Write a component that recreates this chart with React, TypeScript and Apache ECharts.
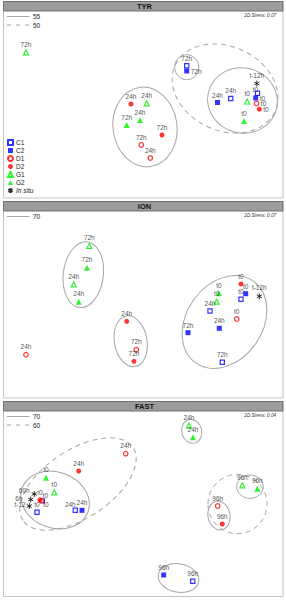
import { useEffect, useRef } from "react";
import * as echarts from "echarts";

type Pt = [number, number, string];
type Ell = [number, number, number, number, number, number]; // cx, cy, rx, ry, rotationDeg, dashed

const FONT = '"Liberation Sans", Arial, sans-serif';

const panelNames = ["TYR", "ION", "FAST"];
const stressLabels = ["2D Stress: 0.07", "2D Stress: 0.07", "2D Stress: 0.04"];
const contourSolid = ["55", "70", "70"];
const contourDashed = ["50", "", "60"];
const groupNames = ["C1", "C2", "D1", "D2", "G1", "G2", "In situ"];

// MDS coordinates per panel (x to the right, y downward, panel units)
const tyrPoints: Record<string, Pt[]> = {
  C1: [[186.7, 65.7, "72h"], [230.7, 98.5, "24h"], [257.5, 93.2, "t0"]],
  C2: [[186.7, 71, "72h"], [217.5, 102.5, "24h"], [255.7, 98, "t0"]],
  D1: [[141.3, 145, "72h"], [150.3, 158, "24h"], [256.5, 103.5, "t0"]],
  D2: [[131, 104, "24h"], [162, 135, "72h"], [259.3, 109.2, "t0"]],
  G1: [[26, 52.3, "72h"], [146.7, 103.3, "24h"], [247.2, 101.5, "t0"]],
  G2: [[140, 120, "24h"], [126.7, 125, "72h"], [244, 121, "t0"]],
  "In situ": [[256.8, 83.5, "t-12h"]],
};
const ionPoints: Record<string, Pt[]> = {
  C1: [[210, 111, "24h"], [241, 99.3, "t0"], [222.3, 162.3, "72h"]],
  C2: [[245.7, 93.7, "t0"], [219.3, 128.3, "24h"], [188, 132.7, "72h"]],
  D1: [[136.3, 149.7, "72h"], [26, 154.7, "24h"], [236.7, 119, "t0"]],
  D2: [[126.7, 121.3, "24h"], [134, 161.3, "72h"], [241, 84, "t0"]],
  G1: [[89.3, 46, "72h"], [73.7, 84.3, "24h"], [216.7, 101.7, "t0"]],
  G2: [[87, 67.7, "72h"], [78.7, 101.7, "24h"], [219, 93.3, "t0"]],
  "In situ": [[259.3, 96.3, "t-12h"]],
};
const fastPoints: Record<string, Pt[]> = {
  C1: [[75.3, 110.3, "24h"], [37, 112.3, "t0"], [192.7, 181.3, "96h"]],
  C2: [[82, 110.3, "24h"], [42.5, 100.8, "t0"], [163.7, 175, "96h"]],
  D2: [[78.7, 71, "24h"], [40, 100, "t0"], [222.3, 124, "96h"]],
  D1: [[125.7, 53.7, "24h"], [41.7, 100.7, "t0"], [217.7, 106, "96h"]],
  G1: [[189, 25.7, "24h"], [54.3, 92.3, "t0"], [242.3, 85.3, "96h"]],
  G2: [[193, 37.3, "24h"], [46, 77.7, "t0"], [257.3, 88.7, "96h"]],
  "In situ": [[34.3, 94, "60h"], [30.7, 99.5, "6h"], [29.3, 106, "t-12"]],
};

// similarity contours (cluster outlines)
const tyrEllipses: Ell[] = [
  [225, 88.5, 55, 42, -25, 1],
  [186.7, 67.2, 12, 12.5, 0, 0],
  [242.5, 100.5, 35, 32.5, -15, 0],
  [145, 127, 32, 40, 8, 0],
];
const ionEllipses: Ell[] = [
  [83.3, 74.7, 20, 33, -7, 0],
  [130.7, 141.3, 16.3, 25.7, 10, 0],
  [224.5, 122, 50, 38, 55, 0],
];
const fastEllipses: Ell[] = [
  [191.7, 31.3, 10, 12, 15, 0],
  [55, 100, 35, 28, -20, 0],
  [78, 84, 66, 34, 33.5, 1],
  [250, 86.7, 13.3, 11.7, 0, 0],
  [219, 115.5, 11, 14.5, 10, 0],
  [237.5, 104, 29.5, 29.7, 0, 1],
  [178.5, 178, 20.5, 14.3, -10, 0],
];

const panelPoints = [tyrPoints, ionPoints, fastPoints];
const panelEllipses = [tyrEllipses, ionEllipses, fastEllipses];

// label placement tweaks (style only)
const labelTweaks: Record<string, { position?: string; offset?: number[] }> = {
  "TYR|C2|72h": { position: "right" },
  "TYR|C2|t0": { position: "right" },
  "TYR|D1|t0": { position: "right" },
  "TYR|D2|t0": { position: "right" },
  "TYR|C1|t0": { offset: [-2, 3.5] },
  "FAST|C1|24h": { offset: [-5, 2] },
  "FAST|C2|t0": { offset: [3, 2.5] },
  "FAST|D1|t0": { offset: [4.3, 12] },
  "FAST|In situ|60h": { position: "left", offset: [0, -4] },
  "FAST|In situ|6h": { position: "left", offset: [-3.5, -1] },
  "FAST|In situ|t-12": { position: "left", offset: [1, -1.5] },
};

const ASTERISK = "path://M5,0L5,10M0.67,2.5L9.33,7.5M0.67,7.5L9.33,2.5";
const BLUE = "#0000ff";
const RED = "#ff0000";
const GREEN = "#00ee00";

const groupStyle: Record<string, any> = {
  C1: { symbol: "rect", symbolSize: 4.2, itemStyle: { color: "#fff", borderColor: BLUE, borderWidth: 1.2 } },
  C2: { symbol: "rect", symbolSize: 5, itemStyle: { color: BLUE } },
  D1: { symbol: "circle", symbolSize: 4.5, itemStyle: { color: "#fff", borderColor: RED, borderWidth: 1.2 } },
  D2: { symbol: "circle", symbolSize: 5, itemStyle: { color: RED } },
  G1: { symbol: "triangle", symbolSize: 5, itemStyle: { color: "#fff", borderColor: GREEN, borderWidth: 1.2 } },
  G2: { symbol: "triangle", symbolSize: 6, itemStyle: { color: GREEN } },
  "In situ": {
    symbol: ASTERISK,
    symbolSize: 6,
    symbolKeepAspect: true,
    itemStyle: { color: "rgba(0,0,0,0)", borderColor: "#000", borderWidth: 1 },
  },
};

const PANEL_H = 200;

export default function App() {
  const ref = useRef<HTMLDivElement>(null);
  useEffect(() => {
    if (!ref.current) return;
    const chart = echarts.init(ref.current, undefined, { renderer: "svg" });

    const grids: any[] = [];
    const xAxes: any[] = [];
    const yAxes: any[] = [];
    const series: any[] = [];
    const graphics: any[] = [];

    panelNames.forEach((pname, k) => {
      grids.push({ left: 0, top: k * PANEL_H, width: 286, height: PANEL_H });
      xAxes.push({ type: "value", gridIndex: k, min: 0, max: 286, show: false });
      yAxes.push({ type: "value", gridIndex: k, min: 0, max: PANEL_H, inverse: true, show: false });

      series.push({
        type: "custom",
        name: "contours-" + pname,
        xAxisIndex: k,
        yAxisIndex: k,
        silent: true,
        z: 1,
        encode: { x: 0, y: 1 },
        data: panelEllipses[k],
        renderItem: (_p: any, api: any) => {
          const c = api.coord([api.value(0), api.value(1)]);
          const s = api.size([api.value(2), api.value(3)]);
          return {
            type: "ellipse",
            x: c[0],
            y: c[1],
            rotation: (api.value(4) * Math.PI) / 180,
            shape: { cx: 0, cy: 0, rx: s[0], ry: s[1] },
            style: {
              fill: "none",
              stroke: "#a6a6a6",
              lineWidth: 1,
              lineDash: api.value(5) ? [5, 4] : null,
            },
          };
        },
      });

      const pts = panelPoints[k];
      groupNames.forEach((g) => {
        const list = pts[g] || [];
        const st = groupStyle[g];
        series.push({
          type: "scatter",
          name: g,
          xAxisIndex: k,
          yAxisIndex: k,
          z: 3,
          symbol: st.symbol,
          symbolSize: st.symbolSize,
          symbolKeepAspect: st.symbolKeepAspect,
          itemStyle: st.itemStyle,
          label: {
            show: true,
            formatter: "{b}",
            position: "top",
            distance: 1.5,
            fontSize: 6.5,
            fontFamily: FONT,
            color: "#222222",
            textBorderWidth: 0,
            textBorderColor: "transparent",
          },
          emphasis: { disabled: true },
          data: list.map((p) => {
            const tw = labelTweaks[`${pname}|${g}|${p[2]}`];
            const item: any = { name: p[2], value: [p[0], p[1]] };
            if (tw) item.label = { ...tw };
            return item;
          }),
        });
      });

      const top = 1.5 + k * PANEL_H;
      const h = k === 2 ? 195 : 196.5;
      graphics.push({
        type: "rect",
        z: 0,
        shape: { x: 3.5, y: top, width: 279.5, height: h },
        style: { fill: "none", stroke: "#c4c4c4", lineWidth: 1 },
      });
      graphics.push({
        type: "rect",
        z: 5,
        shape: { x: 3.5, y: top, width: 279.5, height: 9.5 },
        style: { fill: "#9c9c9c", stroke: "#707070", lineWidth: 1 },
      });
      graphics.push({
        type: "text",
        z: 6,
        x: 144.5,
        y: top + 5,
        style: {
          text: pname,
          fontSize: 7.5,
          fontWeight: "bold",
          fontFamily: FONT,
          fill: "#111",
          align: "center",
          verticalAlign: "middle",
          textAlign: "center",
          textVerticalAlign: "middle",
        },
      });
      graphics.push({
        type: "text",
        z: 6,
        x: 276,
        y: top + 14,
        style: {
          text: stressLabels[k],
          fontSize: 4.6,
          fontStyle: "italic",
          fontFamily: FONT,
          fill: "#333",
          align: "right",
          verticalAlign: "middle",
          textAlign: "right",
          textVerticalAlign: "middle",
        },
      });
      const rows = [
        { label: contourSolid[k], dash: null as any, dy: 15 },
        { label: contourDashed[k], dash: [4, 5], dy: 23.5 },
      ];
      rows.forEach((r) => {
        if (!r.label) return;
        graphics.push({
          type: "line",
          z: 6,
          shape: { x1: 7, y1: top + r.dy, x2: 29.5, y2: top + r.dy },
          style: { stroke: "#a6a6a6", lineWidth: 1, lineDash: r.dash },
        });
        graphics.push({
          type: "text",
          z: 6,
          x: 33,
          y: top + r.dy,
          style: {
            text: r.label,
            fontSize: 6.5,
            fontFamily: FONT,
            fill: "#222",
            align: "left",
            verticalAlign: "middle",
            textAlign: "left",
            textVerticalAlign: "middle",
          },
        });
      });
    });

    chart.setOption({
      animation: false,
      textStyle: { fontFamily: FONT },
      grid: grids,
      xAxis: xAxes,
      yAxis: yAxes,
      series,
      graphic: { elements: graphics },
      legend: {
        show: true,
        orient: "vertical",
        left: 7,
        top: 139,
        padding: 0,
        itemWidth: 5,
        itemHeight: 5,
        itemGap: 1,
        selectedMode: false,
        data: groupNames,
        formatter: (n: string) => (n === "In situ" ? "{i|In situ}" : n),
        textStyle: {
          fontSize: 6.5,
          fontFamily: FONT,
          color: "#222",
          padding: [0, 0, 0, -2],
          rich: { i: { fontStyle: "italic", fontSize: 6.5, fontFamily: FONT, color: "#222" } },
        },
      },
    });

    return () => chart.dispose();
  }, []);

  return (
    <div
      ref={ref}
      style={{ position: "absolute", left: 0, top: 0, width: 286, height: 600, background: "#fff" }}
    />
  );
}
